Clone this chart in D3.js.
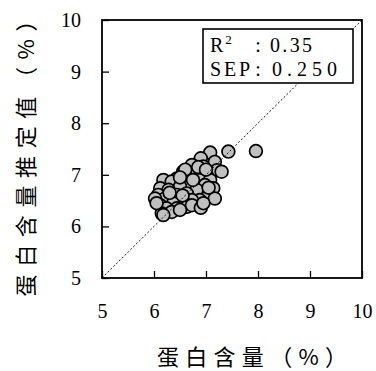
<!DOCTYPE html>
<html>
<head>
<meta charset="utf-8">
<script src="https://cdn.jsdelivr.net/npm/d3@7"></script>
<style>
  html, body { margin: 0; padding: 0; background: #fff; }
  svg { display: block; }
</style>
</head>
<body>
<svg id="chart" width="376" height="371"></svg>
<script>
// Measured protein content (%) and its NIR estimate (%)
const measured = [
  7.08, 7.43, 7.96, 6.90, 7.17, 6.73, 6.95, 7.21, 7.30, 6.56,
  6.79, 7.01, 6.63, 6.44, 6.18, 6.34, 6.88, 7.08, 6.69, 6.50,
  6.12, 6.28, 7.14, 6.98, 6.82, 6.63, 6.44, 6.08, 6.21, 7.04,
  7.17, 6.88, 6.73, 6.56, 6.37, 6.12, 6.24, 6.44, 6.63, 6.15,
  6.34, 6.50, 6.73, 6.02, 6.05, 6.18, 6.90, 6.95, 7.05, 6.60,
  6.85, 6.50, 6.30, 6.55, 6.75, 7.00
];
const estimated = [
  7.43, 7.45, 7.46, 7.32, 7.25, 7.19, 7.16, 7.09, 7.06, 7.06,
  7.03, 7.00, 6.93, 6.93, 6.90, 6.87, 6.90, 6.90, 6.80, 6.77,
  6.74, 6.71, 6.74, 6.80, 6.71, 6.64, 6.61, 6.61, 6.54, 6.58,
  6.54, 6.51, 6.51, 6.48, 6.45, 6.41, 6.35, 6.35, 6.38, 6.25,
  6.28, 6.32, 6.41, 6.54, 6.45, 6.22, 6.36, 6.45, 6.75, 7.10,
  7.15, 6.95, 6.65, 6.60, 6.90, 7.10
];
const xTicks = [5, 6, 7, 8, 9, 10];
const yTicks = [5, 6, 7, 8, 9, 10];
const statNames = ["R", "SEP"];
const statValues = ["0.35", "0.250"];
const xTitle = "蛋白含量（%）";
const yTitle = "蛋白含量推定值（%）";

const points = measured.map((m, i) => ({ x: m, y: estimated[i] }));

const svg = d3.select("#chart");
const plotLeft = 102, plotRight = 362, plotTop = 20, plotBottom = 278;

const x = d3.scaleLinear().domain([5, 10]).range([plotLeft, plotRight]);
const y = d3.scaleLinear().domain([5, 10]).range([plotBottom, plotTop]);

const numFont = "'Liberation Serif', 'DejaVu Serif', serif";
const cjkFont = "'Noto Sans CJK SC', 'Noto Sans CJK JP', sans-serif";

// Scatter points
svg.append("g")
  .selectAll("circle")
  .data(points)
  .join("circle")
  .attr("cx", d => x(d.x))
  .attr("cy", d => y(d.y))
  .attr("r", 6.4)
  .attr("fill", "#c0c0c0")
  .attr("stroke", "#000")
  .attr("stroke-width", 1.7);

// 1:1 reference line
svg.append("line")
  .attr("x1", x(5)).attr("y1", y(5))
  .attr("x2", x(10)).attr("y2", y(10))
  .attr("stroke", "#000")
  .attr("stroke-width", 0.9)
  .attr("stroke-dasharray", "2,2");

// Axes with inward ticks
const xAxis = svg.append("g")
  .attr("transform", `translate(0,${plotBottom})`)
  .call(d3.axisBottom(x).tickValues(xTicks).tickSize(-7).tickPadding(26).tickFormat(d3.format("d")));
const yAxis = svg.append("g")
  .attr("transform", `translate(${plotLeft},0)`)
  .call(d3.axisLeft(y).tickValues(yTicks).tickSize(-7).tickPadding(21).tickFormat(d3.format("d")));

[xAxis, yAxis].forEach(ax => {
  ax.select(".domain").remove();
  ax.selectAll(".tick line").attr("stroke", "#000").attr("stroke-width", 1.3);
  ax.selectAll(".tick text")
    .attr("fill", "#000")
    .style("font-family", numFont)
    .style("font-size", "20px");
});

// Frame
svg.append("rect")
  .attr("x", plotLeft).attr("y", plotTop)
  .attr("width", plotRight - plotLeft).attr("height", plotBottom - plotTop)
  .attr("fill", "none")
  .attr("stroke", "#000")
  .attr("stroke-width", 1.8);

// Statistics box
const box = svg.append("g");
box.append("rect")
  .attr("x", 203).attr("y", 29)
  .attr("width", 150).attr("height", 54)
  .attr("fill", "#fff")
  .attr("stroke", "#000")
  .attr("stroke-width", 1.6);

const rows = [52, 76];
statNames.forEach((name, i) => {
  const t = box.append("text")
    .attr("x", 210).attr("y", rows[i])
    .style("font-family", numFont)
    .style("font-size", "20px")
    .attr("fill", "#000");
  if (i === 0) {
    t.append("tspan").text(name);
    t.append("tspan").attr("dx", 2).attr("dy", -8).style("font-size", "13px").text("2");
  } else {
    t.attr("textLength", 40).attr("lengthAdjust", "spacing").text(name);
  }
  box.append("text")
    .attr("x", 258).attr("y", rows[i])
    .attr("text-anchor", "middle")
    .style("font-family", numFont)
    .style("font-size", "20px")
    .text(":");
  box.append("text")
    .attr("x", i === 0 ? 270 : 272).attr("y", rows[i])
    .attr("textLength", i === 0 ? 42 : 65)
    .attr("lengthAdjust", "spacing")
    .style("font-family", numFont)
    .style("font-size", "20px")
    .text(statValues[i]);
});

// Axis titles
svg.append("text")
  .attr("x", 252).attr("y", 365)
  .attr("text-anchor", "middle")
  .attr("textLength", 190)
  .attr("lengthAdjust", "spacing")
  .style("font-family", cjkFont)
  .style("font-size", "22px")
  .text(xTitle);

svg.append("text")
  .attr("transform", "translate(34,153) rotate(-90)")
  .attr("text-anchor", "middle")
  .attr("textLength", 287)
  .attr("lengthAdjust", "spacing")
  .style("font-family", cjkFont)
  .style("font-size", "22px")
  .text(yTitle);
</script>
</body>
</html>
